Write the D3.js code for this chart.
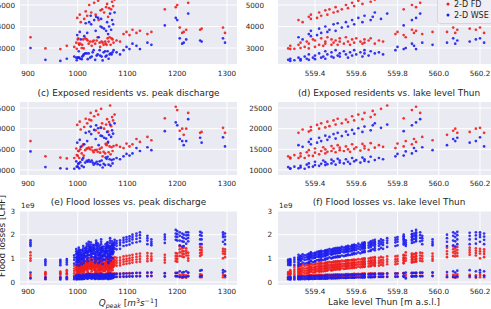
<!DOCTYPE html>
<html>
<head>
<meta charset="utf-8">
<script src="https://cdnjs.cloudflare.com/ajax/libs/d3/7.8.5/d3.min.js"></script>
<style>
body { margin: 0; background: #fff; overflow: hidden; }
svg { display: block; font-family: "DejaVu Sans", sans-serif; }
</style>
</head>
<body>
<svg width="491" height="309"></svg>
<script>
// one entry per simulated event (same order in every array)
var lakeLevel = [559.27,559.28,559.28,559.30,559.32,559.33,559.33,559.35,559.36,559.37,559.37,559.39,559.40,559.40,559.42,559.43,559.44,559.45,559.45,559.46,559.48,559.48,559.49,559.50,559.51,559.52,559.52,559.54,559.55,559.56,559.57,559.58,559.59,559.60,559.62,559.63,559.64,559.64,559.66,559.67,559.69,559.71,559.73,559.79,559.80,559.83,559.84,559.87,559.88,559.89,559.92,559.97,
  559.32,559.34,559.37,559.38,559.38,559.41,559.42,559.43,559.45,559.46,559.47,559.49,559.50,559.51,559.53,559.55,559.56,559.58,559.59,559.61,559.63,559.64,559.67,559.68,559.69,559.72,559.75,559.83,559.87,559.89,559.91,
  560.04,560.07,560.08,560.09,560.15,560.18,560.20,560.22];

var peakQ = [935,965,978,998,1003,1008,1050,993,1062,1012,1035,1000,1045,1020,1066,1001,1028,1055,1005,1040,1009,1070,997,1032,1058,1015,1048,1002,1064,1025,1052,1011,1044,1068,1030,1056,1018,1072,1038,1060,1022,1078,1085,1092,1098,1104,905,1110,1118,1125,1140,1148,
  1042,1006,1061,1013,1036,999,1053,1019,1046,1004,1067,1027,1057,1016,1049,1023,1063,1033,1071,1041,1059,1026,1069,1037,1074,1047,1065,1175,1200,1197,1222,
  1213,1205,1210,1246,1249,1218,1292,1296];

// top row (panels a/b, only their lower part is visible)
var topFD = [2980,2950,3100,2960,3150,3000,3250,3050,3300,2980,3200,3400,3050,3350,3150,3450,3100,3300,3200,3500,3150,3400,3250,3350,3150,3450,3300,3200,3500,3300,3150,3400,3250,3450,3300,3200,3400,3250,3350,3450,3200,3350,3300,3650,3750,3600,3500,3850,3700,3800,3650,3750,
  4300,4200,4450,4350,4550,4400,4650,4500,4750,4550,4800,4650,4900,4700,4800,5000,4850,5100,4950,5200,5050,5300,5150,5450,5250,5500,5600,4800,5000,4900,5100,
  3750,3950,3700,3850,3900,3850,3950,3700];
var topWSE = [2450,2400,2500,2430,2550,2480,2420,2600,2500,2700,2450,2550,2650,2480,2750,2550,2600,2850,2500,2700,2600,2800,2550,2900,2650,2750,2600,2850,2700,2550,2800,2650,2900,2700,2800,2600,2750,2900,2650,2850,2750,2800,2700,2900,3050,2950,3000,3200,3100,2950,3250,3150,
  3500,3400,3650,3550,3800,3600,3900,3700,4000,3750,3850,4100,3800,4150,3950,4200,4000,4300,4100,4400,4200,4500,4300,4450,4650,4350,4600,4050,4300,4400,4600,
  3250,3450,3200,3350,3300,3400,3450,3250];

// exposed residents
var residentsFD = [13300,13000,12800,13600,12900,14000,13300,12900,14300,13500,14800,13400,14200,15200,13800,14600,15500,14000,15000,14400,15800,14600,15200,14300,16000,14800,15400,14600,15700,15000,14400,16200,15100,15500,14700,16300,15200,15800,14900,16500,15400,16000,15600,15300,16400,15700,17000,16200,17500,16800,18000,17200,
  19000,19800,19300,20400,19600,20900,20000,21300,20300,21700,20600,22000,21000,22400,21300,22200,21600,23000,22000,23400,22300,23800,22800,24300,23400,24800,25600,22500,24500,25300,23800,
  18500,19500,20000,19000,19200,20000,20200,19000];
var residentsWSE = [10700,10400,10300,10800,10400,11000,10600,10300,11300,10700,11600,10800,11200,12000,11000,11500,12300,11200,11900,11400,12500,11600,12100,11300,12700,11800,12300,11600,12600,12000,11500,12900,12100,12400,11800,13000,12200,12600,12000,13200,12400,12900,12600,13300,13900,13500,14500,14000,15300,14600,15500,14800,
  16000,15600,16800,16200,17500,16600,17800,17000,18300,17300,18000,18700,17600,19000,18200,19300,18500,19700,18800,20100,19200,20500,19600,20800,21300,20200,21000,19400,20800,21500,22300,
  16000,17500,17000,17800,16600,17000,17900,15700];

// flood losses [1e9 CHF], several estimates per event
var lossWSE = [
  [.95,.88,.8,.72,.2,.12],[.94,.87,.8,.71,.19,.11],[.97,.9,.82,.74,.2,.12],[1.02,.94,.85,.72,.21,.11],[1.0,.93,.84,.7,.2,.12],
  [1.08,.98,.9,.75,.22,.12],[1.1,1.0,.91,.76,.22,.13],[1.13,1.03,.93,.78,.22,.12],[1.15,1.05,.95,.8,.23,.13],[1.16,1.06,.96,.8,.23,.13],
  [1.18,1.08,.98,.82,.23,.13],[1.2,1.1,1.0,.84,.24,.13],[1.22,1.12,1.02,.86,.24,.14],[1.23,1.13,1.03,.88,.24,.14],[1.26,1.15,1.05,.9,.25,.14],
  [1.27,1.16,1.06,.91,.25,.14],[1.29,1.18,1.08,.93,.25,.14],[1.3,1.2,1.1,.95,.26,.15],[1.32,1.22,1.12,.96,.26,.15],[1.33,1.23,1.13,.98,.26,.15],
  [1.35,1.25,1.15,1.0,.27,.15],[1.37,1.27,1.17,1.01,.27,.16],[1.39,1.29,1.19,1.03,.27,.16],[1.4,1.3,1.2,1.04,.28,.16],[1.41,1.31,1.21,1.05,.28,.16],
  [1.42,1.32,1.22,1.06,.28,.17],[1.44,1.34,1.24,1.08,.28,.17],[1.45,1.35,1.25,1.09,.29,.17],[1.47,1.37,1.27,1.11,.29,.17],[1.49,1.38,1.28,1.13,.29,.18],
  [1.5,1.4,1.3,1.14,.3,.18],[1.52,1.42,1.32,1.16,.3,.18],[1.54,1.44,1.34,1.18,.3,.18],[1.55,1.45,1.35,1.2,.31,.19],[1.57,1.47,1.37,1.21,.31,.19],
  [1.6,1.5,1.4,1.25,.31,.19],[1.62,1.52,1.42,1.26,.32,.2],[1.64,1.53,1.43,1.28,.32,.2],[1.65,1.55,1.45,1.3,.32,.2],[1.67,1.57,1.47,1.31,.33,.2],
  [1.7,1.6,1.5,1.34,.33,.21],[1.73,1.63,1.53,1.38,.34,.21],[1.76,1.66,1.56,1.4,.34,.21],[1.87,1.77,1.67,1.52,.35,.22],[1.9,1.8,1.7,1.55,.36,.22],
  [1.93,1.83,1.73,1.58,.36,.23],[1.76,1.68,1.6,1.52,.4,.15],[2.0,1.9,1.8,1.65,.37,.23],[2.05,1.95,1.82,1.68,.38,.24],[2.1,1.98,1.86,1.72,.38,.24],
  [1.95,1.85,1.75,1.6,.39,.24],[1.8,1.7,1.62,1.55,.4,.25],
  [1.15,1.05,.95,.8,.23,.13],[1.17,1.07,.97,.82,.23,.13],[1.19,1.09,.99,.84,.24,.13],[1.23,1.13,1.03,.88,.24,.14],[1.25,1.15,1.05,.9,.25,.14],
  [1.27,1.17,1.07,.92,.25,.14],[1.29,1.19,1.09,.94,.25,.15],[1.32,1.22,1.12,.97,.26,.15],[1.34,1.24,1.14,.99,.26,.15],[1.36,1.26,1.16,1.0,.27,.15],
  [1.39,1.29,1.19,1.04,.27,.16],[1.41,1.31,1.21,1.05,.27,.16],[1.43,1.33,1.23,1.07,.28,.16],[1.44,1.34,1.24,1.09,.28,.17],[1.48,1.38,1.28,1.12,.28,.17],
  [1.5,1.4,1.3,1.14,.29,.17],[1.53,1.43,1.33,1.17,.29,.18],[1.56,1.46,1.36,1.2,.3,.18],[1.58,1.48,1.38,1.22,.3,.18],[1.62,1.51,1.41,1.25,.31,.19],
  [1.65,1.55,1.45,1.28,.31,.19],[1.68,1.58,1.48,1.32,.32,.2],[1.72,1.62,1.52,1.35,.32,.2],[1.75,1.65,1.55,1.38,.33,.2],[1.78,1.68,1.58,1.42,.33,.21],
  [1.8,1.7,1.6,1.44,.34,.21],[1.85,1.75,1.65,1.48,.35,.21],[2.0,1.9,1.8,1.65,.37,.23],[2.15,2.02,1.9,1.75,.38,.24],[2.2,2.05,1.92,1.78,.38,.24],
  [2.1,1.98,1.86,1.72,.39,.24],
  [2.0,1.85,1.7,1.52,.42,.22],[2.1,1.95,1.75,1.55,.45,.22],[2.05,1.9,1.72,1.5,.4,.2],[2.12,1.98,1.8,1.6,.48,.24],[2.08,1.95,1.8,1.6,.5,.25],
  [2.1,1.97,1.82,1.62,.45,.22],[2.1,2.0,1.9,1.7,.5,.4],[2.05,1.92,1.78,1.6,.45,.25]];
var lossFD = [
  [.42,.38,.34,.3,.2,.14],[.44,.39,.35,.31,.21,.15],[.5,.43,.37,.32,.22,.16],[.63,.52,.43,.34,.26,.16],[.66,.54,.44,.35,.27,.17],
  [.67,.55,.45,.35,.27,.17],[.68,.56,.46,.36,.28,.17],[.69,.57,.47,.37,.27,.17],[.7,.58,.48,.38,.28,.18],[.71,.59,.49,.39,.27,.17],
  [.72,.6,.5,.4,.28,.18],[.73,.61,.51,.4,.28,.17],[.74,.62,.52,.41,.27,.18],[.75,.63,.53,.42,.28,.18],[.76,.64,.54,.43,.29,.18],
  [.77,.65,.55,.44,.28,.17],[.78,.66,.56,.45,.29,.18],[.79,.67,.57,.46,.28,.18],[.8,.68,.58,.47,.29,.19],[.81,.69,.59,.48,.29,.18],
  [.82,.7,.6,.49,.3,.19],[.83,.71,.61,.5,.29,.19],[.84,.72,.62,.51,.3,.19],[.85,.73,.63,.52,.3,.2],[.86,.74,.64,.53,.31,.2],
  [.86,.74,.64,.53,.3,.19],[.87,.75,.65,.54,.31,.2],[.88,.76,.66,.55,.31,.2],[.89,.77,.67,.56,.31,.2],[.9,.78,.68,.57,.32,.2],
  [.91,.79,.69,.58,.32,.21],[.92,.8,.7,.59,.32,.21],[.93,.81,.71,.6,.33,.21],[.94,.82,.72,.61,.33,.21],[.95,.83,.73,.62,.33,.22],
  [.96,.84,.74,.63,.34,.22],[.97,.85,.75,.64,.34,.22],[.98,.86,.76,.65,.34,.22],[.99,.87,.77,.66,.35,.23],[1.0,.88,.78,.67,.35,.23],
  [1.01,.89,.79,.68,.35,.23],[1.02,.9,.8,.69,.36,.23],[1.03,.91,.81,.7,.36,.24],[1.08,.96,.86,.75,.37,.24],[1.1,.98,.88,.77,.37,.24],
  [1.12,1.0,.9,.79,.38,.25],[1.25,1.12,1.0,.9,.3,.2],[1.15,1.03,.93,.82,.38,.25],[1.18,1.06,.95,.84,.39,.25],[1.2,1.08,.97,.86,.39,.26],
  [1.22,1.1,.99,.88,.4,.26],[1.2,1.08,.98,.9,.4,.26],
  [.72,.6,.5,.4,.28,.18],[.73,.61,.51,.41,.28,.18],[.74,.62,.52,.42,.29,.18],[.76,.64,.54,.44,.29,.18],[.77,.65,.55,.45,.29,.19],
  [.78,.66,.56,.46,.3,.19],[.79,.67,.57,.47,.3,.19],[.81,.69,.59,.49,.3,.19],[.82,.7,.6,.5,.3,.2],[.83,.71,.61,.51,.31,.2],
  [.85,.73,.63,.53,.31,.2],[.86,.74,.64,.54,.31,.2],[.87,.75,.65,.55,.32,.2],[.88,.76,.66,.56,.32,.21],[.9,.78,.68,.58,.32,.21],
  [.91,.79,.69,.59,.33,.21],[.93,.81,.71,.61,.33,.21],[.94,.82,.72,.62,.33,.22],[.95,.83,.73,.63,.34,.22],[.97,.85,.75,.65,.34,.22],
  [.99,.87,.77,.66,.35,.22],[1.0,.88,.78,.68,.35,.23],[1.02,.9,.8,.69,.35,.23],[1.03,.91,.81,.71,.36,.23],[1.05,.93,.83,.72,.36,.24],
  [1.06,.94,.84,.73,.36,.24],[1.08,.96,.86,.75,.37,.24],[1.15,1.03,.93,.82,.38,.25],[1.2,1.08,.97,.86,.39,.25],[1.22,1.1,.99,.88,.39,.26],
  [1.24,1.12,1.0,.9,.4,.26],
  [1.45,1.3,1.18,1.05,.3,.2],[1.5,1.38,1.25,1.1,.3,.2],[1.42,1.3,1.2,1.08,.28,.18],[1.48,1.35,1.22,1.1,.32,.2],[1.45,1.35,1.25,1.15,.3,.2],
  [1.42,1.32,1.22,1.12,.28,.18],[1.4,1.3,1.2,1.0,.3,.2],[1.38,1.28,1.18,1.05,.28,.2]];

var xTicksQ = [900, 1000, 1100, 1200, 1300];
var xTicksLake = [559.4, 559.6, 559.8, 560.0, 560.2];
var yTicksTop = [3000, 4000, 5000];
var yTicksRes = [10000, 15000, 20000, 25000];
var yTicksLoss = [0, 1, 2, 3];
var seriesNames = ["2-D FD", "2-D WSE"];
var titles = [
  [null, null],
  ["(c) Exposed residents vs. peak discharge", "(d) Exposed residents vs. lake level Thun"],
  ["(e) Flood losses vs. peak discharge", "(f) Flood losses vs. lake level Thun"]
];

var svg = d3.select("svg");
var colFD = "#f01e1e", colWSE = "#1e1ef0";

var cols = [
  {x0: 20, x1: 237, domain: [883.9, 1320.1], ticks: xTicksQ, fmt: d3.format("d"), key: peakQ},
  {x0: 278, x1: 500, domain: [559.2206, 560.297], ticks: xTicksLake, fmt: d3.format(".1f"), key: lakeLevel}
];
var rows = [
  {y0: -9, y1: 64, domain: [2256, 5651], ticks: yTicksTop, fd: topFD, wse: topWSE, labR: [15, 264], tickY: 76},
  {y0: 102, y1: 175, domain: [8790, 26452], ticks: yTicksRes, fd: residentsFD, wse: residentsWSE, labR: [15, 272], tickY: 186},
  {y0: 211, y1: 285, domain: [-0.127, 3.0], ticks: yTicksLoss, fd: lossFD, wse: lossWSE, labR: [15, 272], tickY: 294, stacked: true}
];

function pts(key, vals, stacked) {
  var out = [];
  key.forEach(function(k, i) {
    if (stacked) vals[i].forEach(function(v) { out.push([k, v]); });
    else out.push([k, vals[i]]);
  });
  return out;
}

rows.forEach(function(r, ri) {
  cols.forEach(function(c, ci) {
    var x = d3.scaleLinear().domain(c.domain).range([c.x0, c.x1]);
    var y = d3.scaleLinear().domain(r.domain).range([r.y1, r.y0]);
    var id = "clip" + ri + ci;
    svg.append("clipPath").attr("id", id).append("rect")
      .attr("x", c.x0).attr("y", r.y0).attr("width", c.x1 - c.x0).attr("height", r.y1 - r.y0);
    var g = svg.append("g");
    g.append("rect").attr("x", c.x0).attr("y", r.y0)
      .attr("width", c.x1 - c.x0).attr("height", r.y1 - r.y0).attr("fill", "#eaeaf2");
    g.selectAll(".gx").data(c.ticks).enter().append("line")
      .attr("x1", x).attr("x2", x).attr("y1", r.y0).attr("y2", r.y1)
      .attr("stroke", "#fff").attr("stroke-width", 1);
    g.selectAll(".gy").data(r.ticks).enter().append("line")
      .attr("x1", c.x0).attr("x2", c.x1).attr("y1", y).attr("y2", y)
      .attr("stroke", "#fff").attr("stroke-width", 1);

    var dots = g.append("g").attr("clip-path", "url(#" + id + ")");
    [[r.fd, colFD], [r.wse, colWSE]].forEach(function(s) {
      dots.selectAll(null).data(pts(c.key, s[0], r.stacked)).enter().append("circle")
        .attr("cx", function(d) { return x(d[0]); })
        .attr("cy", function(d) { return y(d[1]); })
        .attr("r", 1.35).attr("fill", s[1]).attr("fill-opacity", 0.9);
    });

    g.selectAll(".tx").data(c.ticks).enter().append("text")
      .attr("x", x).attr("y", r.tickY).attr("text-anchor", "middle")
      .attr("font-size", 7.2).attr("fill", "#262626").text(c.fmt);
    g.selectAll(".ty").data(r.ticks).enter().append("text")
      .attr("x", r.labR[ci]).attr("y", y).attr("dy", "0.35em").attr("text-anchor", "end")
      .attr("font-size", 7.2).attr("fill", "#262626").text(function(d) { return d; });

    if (titles[ri][ci]) {
      g.append("text").attr("x", (c.x0 + (ci ? 500 : c.x1)) / 2).attr("y", r.y0 - 6)
        .attr("text-anchor", "middle").attr("font-size", 8.9).attr("fill", "#262626")
        .text(titles[ri][ci]);
    }
    if (r.stacked) {
      g.append("text").attr("x", c.x0 + 1).attr("y", r.y0 - 3)
        .attr("font-size", 7.2).attr("fill", "#262626").text("1e9");
    }
  });
});

// axis labels on the loss row
var xl = svg.append("text").attr("x", 128).attr("y", 306).attr("text-anchor", "middle")
  .attr("font-size", 8.9).attr("fill", "#262626");
xl.append("tspan").attr("font-style", "italic").text("Q");
xl.append("tspan").attr("font-style", "italic").attr("font-size", 6.3).attr("dy", 1.8).text("peak");
xl.append("tspan").attr("dy", -1.8).text(" [");
xl.append("tspan").attr("font-style", "italic").text("m");
xl.append("tspan").attr("font-size", 6.3).attr("dy", -3.5).text("3");
xl.append("tspan").attr("font-style", "italic").attr("dy", 3.5).text("s");
xl.append("tspan").attr("font-size", 6.3).attr("dy", -3.5).text("\u22121");
xl.append("tspan").attr("dy", 3.5).text("]");

svg.append("text").attr("x", 384).attr("y", 305).attr("text-anchor", "middle")
  .attr("font-size", 8.9).attr("fill", "#262626").text("Lake level Thun [m a.s.l.]");

// y label sits partly outside the picture, as in the original figure crop
svg.append("text").attr("transform", "translate(4.5,236) rotate(-90)").attr("text-anchor", "middle")
  .attr("font-size", 8.9).attr("fill", "#262626").text("Flood losses [CHF]");

// legend (top right panel)
var lg = svg.append("g");
lg.append("rect").attr("x", 437.5).attr("y", -5).attr("width", 60).attr("height", 28.5).attr("rx", 2)
  .attr("fill", "#eeeef4").attr("stroke", "#d0d0d8").attr("stroke-width", 0.8);
seriesNames.forEach(function(n, i) {
  lg.append("circle").attr("cx", 448).attr("cy", 4 + i * 11).attr("r", 1.5)
    .attr("fill", i ? colWSE : colFD);
  lg.append("text").attr("x", 454).attr("y", 4 + i * 11).attr("dy", "0.35em")
    .attr("font-size", 8).attr("fill", "#262626").text(n);
});
</script>
</body>
</html>
